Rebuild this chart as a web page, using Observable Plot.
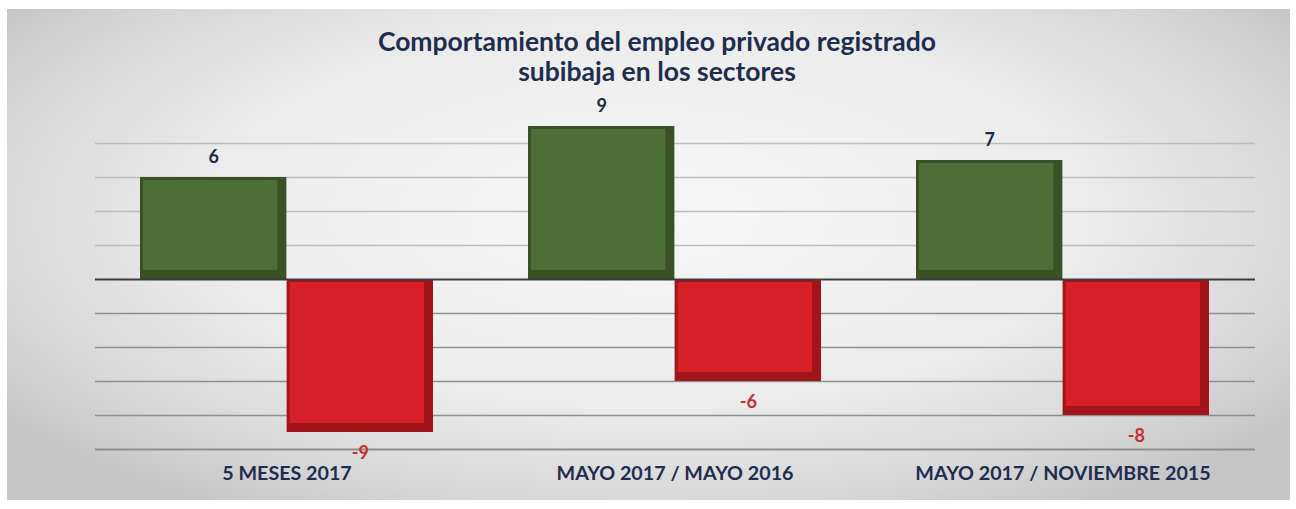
<!DOCTYPE html>
<html>
<head>
<meta charset="utf-8">
<script src="https://cdn.jsdelivr.net/npm/d3@7"></script>
<script src="https://cdn.jsdelivr.net/npm/@observablehq/plot@0.6"></script>
<style>
  html, body { margin: 0; padding: 0; background: #ffffff; }
  #wrap { position: relative; width: 1296px; height: 509px; overflow: hidden; background: #ffffff; }
  #panel { position: absolute; left: 7px; top: 9px; width: 1283px; height: 491px;
    background: radial-gradient(ellipse 62% 70% at 50% 42%, #f7f7f7 0%, #ececec 55%, #d6d6d6 85%, #c6c6c6 100%); }
  #title { position: absolute; left: 0; top: 26px; width: 1314px; text-align: center;
    font-family: Lato, "Open Sans", sans-serif; font-weight: 700; font-size: 26.5px; line-height: 30px; color: #1f2d4f; }
  #chart { position: absolute; left: 0; top: 0; }
</style>
</head>
<body>
<div id="wrap">
  <div id="panel"></div>
  <div id="title">Comportamiento del empleo privado registrado<br>subibaja en los sectores</div>
  <div id="chart"></div>
</div>
<script>
const categories = ["5 MESES 2017", "MAYO 2017 / MAYO 2016", "MAYO 2017 / NOVIEMBRE 2015"];
const subieron = [6, 9, 7];
const bajaron = [-9, -6, -8];
const gridTicks = [-10, -8, -6, -4, -2, 2, 4, 6, 8];

const pos = categories.map((c, i) => ({cat: c, value: subieron[i]}));
const neg = categories.map((c, i) => ({cat: c, value: bajaron[i]}));

const W = 1296, H = 509, mL = 95, mR = 41, mT = 109, mB = 60;
const pIn = 0.2448, pOut = 0.116;
const half = d3.scaleBand().domain(categories).range([mL, W - mR])
  .paddingInner(pIn).paddingOuter(pOut).bandwidth() / 2;

const green = "#4e6e38", greenDark = "#3a5027";
const red = "#d71f27", redDark = "#a1141a";

const chart = Plot.plot({
  width: W, height: H,
  marginLeft: mL, marginRight: mR, marginTop: mT, marginBottom: mB,
  style: {background: "transparent", overflow: "visible"},
  x: {domain: categories, paddingInner: pIn, paddingOuter: pOut, axis: null},
  y: {domain: [-10, 10], axis: null},
  marks: [
    Plot.ruleY(gridTicks, {stroke: d => d < 0 ? "#8f8f8f" : "#bdbdbd", strokeWidth: d => d === -10 ? 2 : 1.5}),
    Plot.barY(pos, {x: "cat", y: "value", fill: greenDark, insetRight: half}),
    Plot.barY(pos, {x: "cat", y: "value", fill: green, insetRight: half + 9, insetLeft: 3, insetTop: 3, insetBottom: 9}),
    Plot.barY(neg, {x: "cat", y: "value", fill: redDark, insetLeft: half}),
    Plot.barY(neg, {x: "cat", y: "value", fill: red, insetLeft: half + 3, insetRight: 9, insetTop: 3, insetBottom: 9}),
    Plot.ruleY([0], {stroke: "#3d3d3d", strokeWidth: 2}),
    Plot.text(pos, {x: "cat", y: "value", text: d => String(d.value), dx: -half / 2, dy: -20,
      fill: "#1f2a44", fontSize: 18, fontWeight: 700, fontFamily: "Lato, sans-serif"}),
    Plot.text(neg, {x: "cat", y: "value", text: d => String(d.value), dx: half / 2, dy: 21,
      fill: "#c3302c", fontSize: 18, fontWeight: 700, fontFamily: "Lato, sans-serif"}),
    Plot.text(categories, {x: d => d, y: () => -10, text: d => d, dy: 24,
      fill: "#1f2d4f", fontSize: 19.7, fontWeight: 700, fontFamily: "Lato, sans-serif"})
  ]
});
document.getElementById("chart").appendChild(chart);
</script>
</body>
</html>
